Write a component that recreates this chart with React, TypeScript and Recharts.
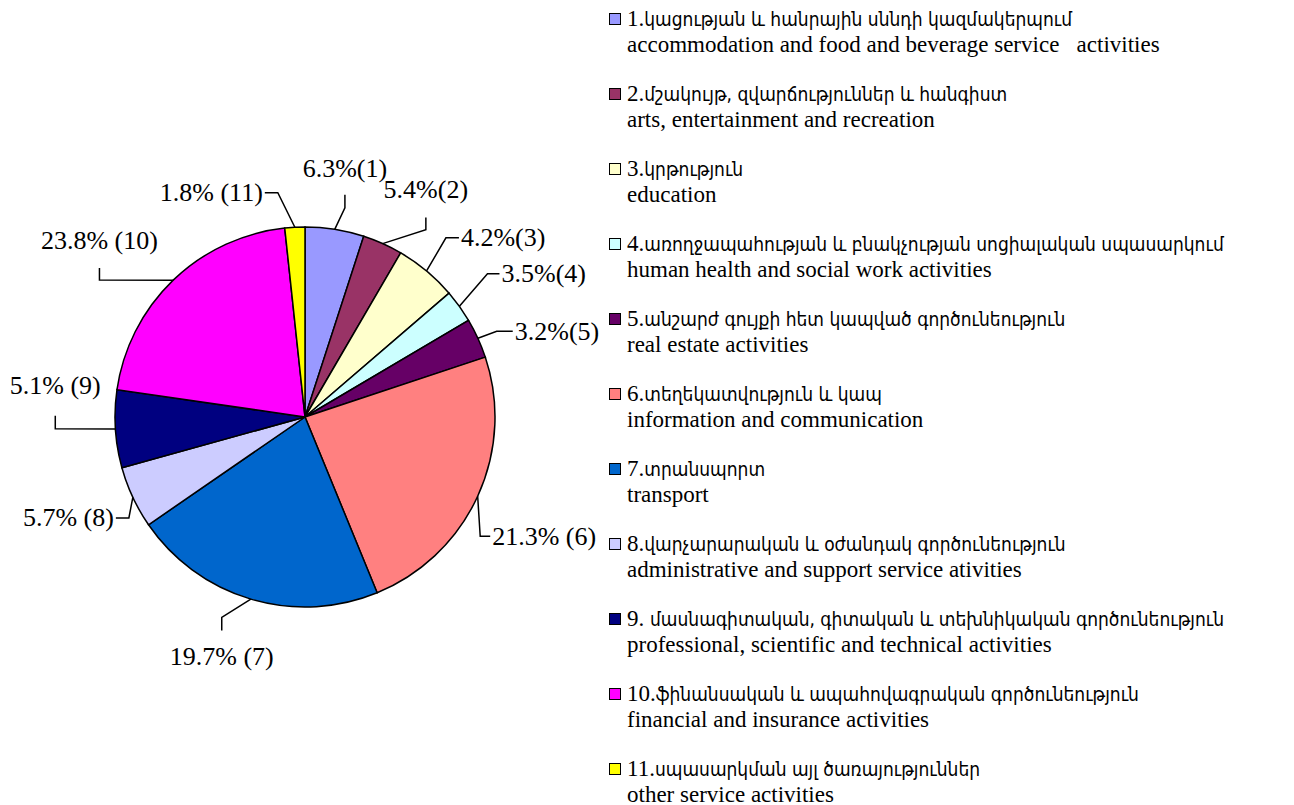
import React from 'react';
import { PieChart, Pie, Cell, Legend } from 'recharts';

// slice sizes as drawn (share of the circle, %)
const sliceValues = [5.0, 3.4, 5.3, 2.8, 3.4, 23.9, 21.6, 5.3, 6.6, 21.0, 1.7];

// printed data labels
const labelTexts = [
  '6.3%(1)', '5.4%(2)', '4.2%(3)', '3.5%(4)', '3.2%(5)', '21.3% (6)',
  '19.7% (7)', '5.7% (8)', '5.1% (9)', '23.8% (10)', '1.8% (11)',
];

const namesHy = [
  '1.կացության և հանրային սննդի կազմակերպում',
  '2.մշակույթ, զվարճություններ և հանգիստ',
  '3.կրթություն',
  '4.առողջապահության և բնակչության սոցիալական սպասարկում',
  '5.անշարժ գույքի հետ կապված գործունեություն',
  '6.տեղեկատվություն և կապ',
  '7.տրանսպորտ',
  '8.վարչարարական և օժանդակ գործունեություն',
  '9. մասնագիտական, գիտական և տեխնիկական գործունեություն',
  '10.ֆինանսական և ապահովագրական գործունեություն',
  '11.սպասարկման այլ ծառայություններ',
];

const namesEn = [
  'accommodation and food and beverage service   activities',
  'arts, entertainment and recreation',
  'education',
  'human health and social work activities',
  'real estate activities',
  'information and communication',
  'transport',
  'administrative and support service ativities',
  'professional, scientific and technical activities',
  'financial and insurance activities',
  'other service activities',
];

const COLORS = [
  '#9999FF', '#993366', '#FFFFCC', '#CCFFFF', '#660066', '#FF8080',
  '#0066CC', '#CCCCFF', '#000080', '#FF00FF', '#FFFF00',
];

const FONT = "'Liberation Serif', 'DejaVu Serif', serif";
const FONT_HY = "'DejaVu Sans Condensed', 'DejaVu Sans', sans-serif";

// leader line tweaks: angle shift, elbow distance past the rim, last segment, text side
const labelLayout = [
  { dA: 1.8, ext: 23, dx: 0, dy: -13, side: 'up', gap: 18 },
  { dA: 8.7, ext: 33, dx: 0, dy: -12, side: 'up', gap: 20 },
  { dA: -1.6, ext: 38, dx: 13, dy: 0, side: 'right', gap: 2 },
  { dA: -2.5, ext: 42, dx: 12, dy: 0, side: 'right', gap: 2 },
  { dA: 0.4, ext: 20, dx: 16, dy: 0, side: 'right', gap: 2 },
  { dA: 9.6, ext: 22, dx: 10, dy: 0, side: 'right', gap: 2 },
  { dA: 6, ext: 27, dx: 0, dy: 13, side: 'down', gap: 35 },
  { dA: -4.8, ext: 13, dx: -13, dy: 0, side: 'left', gap: 2 },
  { dA: 0.9, ext: 60, dx: 0, dy: -13, side: 'up', gap: 22 },
  { dA: -12.4, ext: 57, dx: 0, dy: -12, side: 'up', gap: 19 },
  { dA: -3.85, ext: 36, dx: -13, dy: 0, side: 'left', gap: 2 },
];

const data = sliceValues.map((v, i) => ({ name: namesHy[i], value: v }));

const polar = (cx: number, cy: number, deg: number, r: number) => {
  const t = (deg * Math.PI) / 180;
  return { x: cx + r * Math.sin(t), y: cy - r * Math.cos(t) };
};

const renderLabel = (props: any) => {
  const { cx, cy, midAngle, outerRadius, index } = props;
  const lay = labelLayout[index];
  const theta = 90 - midAngle; // clockwise from 12 o'clock
  const edge = polar(cx, cy, theta, outerRadius);
  const elbow = polar(cx, cy, theta + lay.dA, outerRadius + lay.ext);
  const end = { x: elbow.x + lay.dx, y: elbow.y + lay.dy };

  let tx = end.x;
  let ty = end.y;
  let anchor: 'start' | 'middle' | 'end' = 'middle';
  let baseline: any = 'auto';
  if (lay.side === 'up') {
    ty = end.y - lay.gap;
  } else if (lay.side === 'down') {
    ty = end.y + lay.gap;
  } else if (lay.side === 'right') {
    tx = end.x + lay.gap;
    anchor = 'start';
    baseline = 'central';
  } else {
    tx = end.x - lay.gap;
    anchor = 'end';
    baseline = 'central';
  }

  return (
    <g key={`lbl-${index}`}>
      <polyline
        points={`${edge.x},${edge.y} ${elbow.x},${elbow.y} ${end.x},${end.y}`}
        fill="none"
        stroke="#000"
        strokeWidth={1.5}
      />
      <text
        x={tx}
        y={ty}
        textAnchor={anchor}
        dominantBaseline={baseline}
        fill="#000"
        fontSize={26}
        fontFamily={FONT}
      >
        {labelTexts[index]}
      </text>
    </g>
  );
};

// number prefix in the serif face, Armenian words in a narrow face
const splitName = (s: string) => {
  const m = s.match(/^(\d+\.\s?)(.*)$/);
  return m ? [m[1], m[2]] : ['', s];
};

const renderLegend = (props: any) => {
  const { payload } = props;
  return (
    <div style={{ fontFamily: FONT, fontSize: 23, color: '#000' }}>
      {(payload || []).map((entry: any, i: number) => {
        const [num, words] = splitName(namesHy[i]);
        return (
          <div key={`leg-${i}`} style={{ height: 75, position: 'relative' }}>
            <div
              style={{
                position: 'absolute',
                left: 2,
                top: 7,
                width: 10,
                height: 10,
                background: COLORS[i],
                border: '1.5px solid #000',
              }}
            />
            <div style={{ marginLeft: 20, lineHeight: '25px', whiteSpace: 'pre' }}>
              <div>
                {num}
                <span style={{ fontFamily: FONT_HY, fontSize: 19 }}>{words}</span>
              </div>
              <div>{namesEn[i]}</div>
            </div>
          </div>
        );
      })}
    </div>
  );
};

export default function App() {
  return (
    <div style={{ position: 'absolute', left: 0, top: 0, width: 1294, height: 805, background: '#fff' }}>
      <PieChart width={1294} height={805} margin={{ top: 0, right: 0, bottom: 0, left: 0 }}>
        <Pie
          data={data}
          dataKey="value"
          nameKey="name"
          cx={305}
          cy={417}
          outerRadius={190}
          startAngle={90}
          endAngle={-270}
          stroke="#000"
          strokeWidth={1.5}
          label={renderLabel}
          labelLine={false}
          isAnimationActive={false}
        >
          {data.map((d, i) => (
            <Cell key={`c-${i}`} fill={COLORS[i]} />
          ))}
        </Pie>
        <Legend
          layout="vertical"
          verticalAlign="middle"
          align="center"
          content={renderLegend}
          wrapperStyle={{ left: 607, top: 6, width: 690 }}
        />
      </PieChart>
    </div>
  );
}
